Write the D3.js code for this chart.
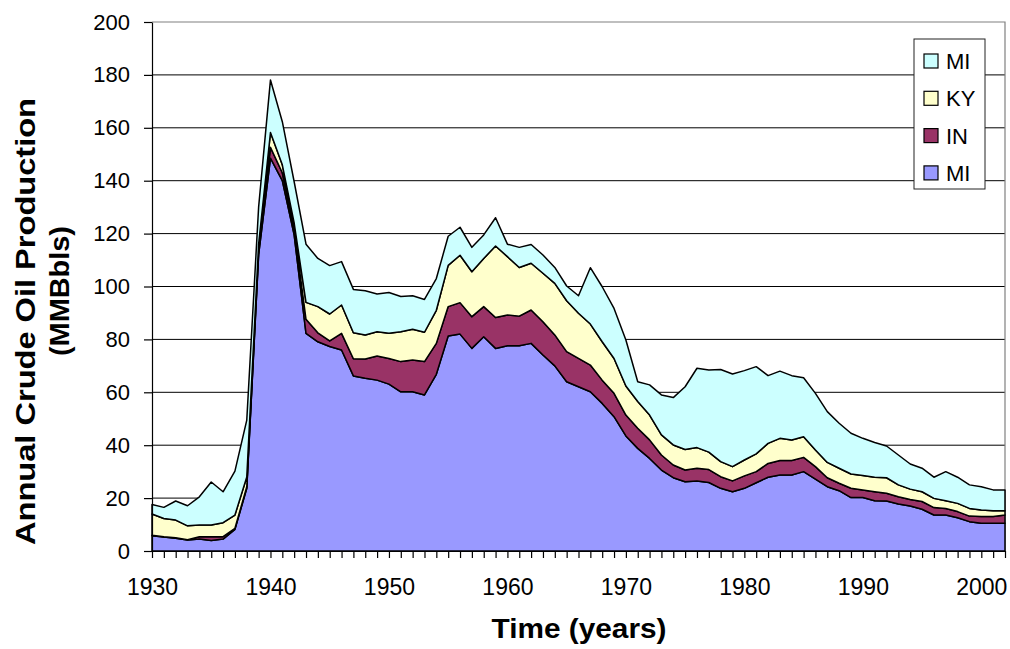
<!DOCTYPE html>
<html>
<head>
<meta charset="utf-8">
<script src="https://cdn.jsdelivr.net/npm/d3@7"></script>
<style>
  body { margin: 0; background: #fff; }
  text { font-family: "Liberation Sans", Arial, sans-serif; fill: #000; }
</style>
</head>
<body>
<svg id="chart" width="1010" height="649"></svg>
<script>
// years on the category axis
var years = d3.range(1930, 2003);

// annual production per state, MMBbls
var miLower = [5.8, 5.3, 4.8, 4.2, 4.5, 4.0, 4.5, 8.2, 23.7, 112,
	148.5, 140, 119.5, 82.3, 79.1, 77.3, 76, 66.2, 65.3, 64.6,
	63.1, 60.2, 60.2, 59, 66.8, 81.3, 82, 76.6, 81, 76.6,
	77.6, 77.6, 78.5, 74.1, 70, 64, 62.1, 60.2, 55.8, 50.8,
	43.5, 38.8, 35, 30.6, 27.7, 26.2, 26.5, 25.9, 23.7, 22.4,
	23.7, 25.8, 27.9, 28.7, 28.7, 30, 27.2, 24.3, 22.8, 20.2,
	20.2, 19, 18.9, 17.8, 17, 15.8, 13.6, 13.6, 12.6, 11.1,
	10.5, 10.5, 10.5];
var inProd = [0.2, 0.1, 0.2, 0.1, 0.9, 1.4, 0.9, 0.4, 0.6, 1.5,
	4.1, 3, 2.5, 5.3, 3.4, 2.1, 6.3, 6.5, 7.3, 9.1,
	9.7, 11.4, 12, 12.6, 11.7, 11.1, 11.9, 12, 11.4, 11.7,
	11.6, 11.2, 12.6, 12.6, 11.7, 11.4, 10.7, 10.1, 8.8, 8.8,
	7.9, 7.6, 7, 5.7, 4.8, 4.4, 4.8, 4.9, 4.4, 4.1,
	4.7, 4.2, 5.2, 5.5, 5.5, 5.4, 4.7, 3.4, 2.8, 3.5,
	2.9, 3.4, 2.9, 2.7, 2.5, 2.9, 2.8, 2.5, 2.3, 2.1,
	2.5, 2.5, 3.1];
var kyProd = [8.0, 6.9, 6.7, 5.2, 4.4, 4.4, 5.3, 5.0, 3.7, 2.5,
	5.6, 3, 2, 6.4, 9.9, 10.2, 10.7, 9.8, 9.1, 9.2,
	9.5, 11.3, 11.6, 11.1, 12.5, 15.6, 17.9, 17, 18.2, 27,
	22.1, 18.4, 17.7, 18.3, 19.5, 19.2, 17.1, 15.5, 14.5, 13.2,
	11, 10.1, 9.4, 7.6, 7.6, 7.8, 7.8, 6.6, 5.7, 5.4,
	6, 6.7, 7.6, 8.4, 7.8, 7.8, 6.3, 5.8, 5.7, 5.4,
	5.4, 5.5, 5.9, 4.5, 3.9, 3.7, 3.5, 2.9, 3.1, 2.9,
	2.5, 2.2, 1.6];
var miUpper = [3.6, 4.2, 7.2, 7.6, 10.7, 16.3, 11.7, 16.6, 21.5, 14,
	19.9, 16.3, 15.6, 22, 18.2, 18.3, 16.4, 16.4, 16.7, 14.3,
	15.4, 13.3, 12.7, 12.4, 12, 11, 10.6, 9.2, 8.9, 10.7,
	4.7, 7.6, 7.1, 6.9, 6, 5.6, 6.6, 21.3, 20.8, 18.9,
	17.4, 7.5, 11.4, 15.1, 17.9, 23.7, 30, 31, 34.8, 35,
	33.8, 33, 25.6, 25.4, 24.3, 22.3, 21.4, 19.2, 17, 15.4,
	14.1, 13.1, 12, 11.3, 9.5, 8.9, 8, 11, 9.9, 8.9,
	8.8, 7.9, 7.9];

var seriesNames = ["MI", "IN", "KY", "MI"];
var seriesColors = ["#9999ff", "#993366", "#ffffcc", "#ccffff"];
var yTicks = [0, 20, 40, 60, 80, 100, 120, 140, 160, 180, 200];
var xLabelYears = [1930, 1940, 1950, 1960, 1970, 1980, 1990, 2000];

var rows = years.map(function(yr, i) {
	return { year: yr, s0: miLower[i], s1: inProd[i], s2: kyProd[i], s3: miUpper[i] };
});

var svg = d3.select("#chart");
// plot box ("top" is taken by window.top)
var plotLeft = 152, plotRight = 1005, plotTop = 22, plotBottom = 551;

var x = d3.scaleLinear().domain([1930, 2002]).range([plotLeft, plotRight]);
var y = d3.scaleLinear().domain([0, 200]).range([plotBottom, plotTop]);

// gridlines (behind the areas)
svg.append("g").selectAll("line")
	.data(yTicks.filter(function(d) { return d > 0 && d < 200; }))
	.enter().append("line")
	.attr("x1", plotLeft).attr("x2", plotRight)
	.attr("y1", function(d) { return y(d); })
	.attr("y2", function(d) { return y(d); })
	.attr("stroke", "#000").attr("stroke-width", 1);

// plot area border top/right
svg.append("path")
	.attr("d", "M" + plotLeft + "," + plotTop + "H" + plotRight + "V" + plotBottom)
	.attr("fill", "none").attr("stroke", "#808080").attr("stroke-width", 1.2);

var stacked = d3.stack().keys(["s0", "s1", "s2", "s3"])(rows);

var area = d3.area()
	.x(function(d) { return x(d.data.year); })
	.y0(function(d) { return y(d[0]); })
	.y1(function(d) { return y(d[1]); });

svg.append("g").selectAll("path")
	.data(stacked)
	.enter().append("path")
	.attr("d", area)
	.attr("fill", function(d, i) { return seriesColors[i]; })
	.attr("stroke", "#000")
	.attr("stroke-width", 1.5)
	.attr("stroke-linejoin", "round");

// y axis
var yAxis = svg.append("g")
	.attr("transform", "translate(" + plotLeft + ",0)")
	.call(d3.axisLeft(y).tickValues(yTicks).tickSize(8).tickSizeOuter(0).tickPadding(14));
yAxis.selectAll("text").style("font-size", "22px").style("font-family", "'Liberation Sans', Arial, sans-serif");
yAxis.selectAll("line, path").attr("stroke", "#000").attr("stroke-width", 1.2);

// x axis
var xAxis = svg.append("g")
	.attr("transform", "translate(0," + plotBottom + ")")
	.call(d3.axisBottom(x).tickValues(years).tickSize(7).tickSizeOuter(0).tickPadding(21)
		.tickFormat(function(d) { return xLabelYears.indexOf(d) >= 0 ? d : ""; }));
xAxis.selectAll("text").style("font-size", "23px").style("font-family", "'Liberation Sans', Arial, sans-serif");
xAxis.selectAll("line, path").attr("stroke", "#000").attr("stroke-width", 1.2);

// axis titles
svg.append("text")
	.attr("x", 579).attr("y", 638)
	.attr("text-anchor", "middle")
	.attr("textLength", 175).attr("lengthAdjust", "spacingAndGlyphs")
	.style("font-size", "28px").style("font-weight", "bold")
	.text("Time (years)");

svg.append("text")
	.attr("transform", "translate(35,321.5) rotate(-90)")
	.attr("text-anchor", "middle")
	.attr("textLength", 447).attr("lengthAdjust", "spacingAndGlyphs")
	.style("font-size", "28px").style("font-weight", "bold")
	.text("Annual Crude Oil Production");

svg.append("text")
	.attr("transform", "translate(69,291) rotate(-90)")
	.attr("text-anchor", "middle")
	.attr("textLength", 130).attr("lengthAdjust", "spacingAndGlyphs")
	.style("font-size", "28px").style("font-weight", "bold")
	.text("(MMBbls)");

// legend, last series on top
var legend = svg.append("g").attr("transform", "translate(914,39)");
legend.append("rect")
	.attr("width", 71).attr("height", 150)
	.attr("fill", "#fff").attr("stroke", "#222").attr("stroke-width", 1);

var legendOrder = [3, 2, 1, 0];
var items = legend.selectAll("g.item")
	.data(legendOrder)
	.enter().append("g")
	.attr("class", "item")
	.attr("transform", function(d, i) { return "translate(0," + (22 + i * 37.3) + ")"; });
items.append("rect")
	.attr("x", 10).attr("y", -7).attr("width", 14).attr("height", 14)
	.attr("fill", function(d) { return seriesColors[d]; })
	.attr("stroke", "#000").attr("stroke-width", 1.2);
items.append("text")
	.attr("x", 32).attr("y", 8)
	.style("font-size", "22px")
	.text(function(d) { return seriesNames[d]; });
</script>
</body>
</html>
